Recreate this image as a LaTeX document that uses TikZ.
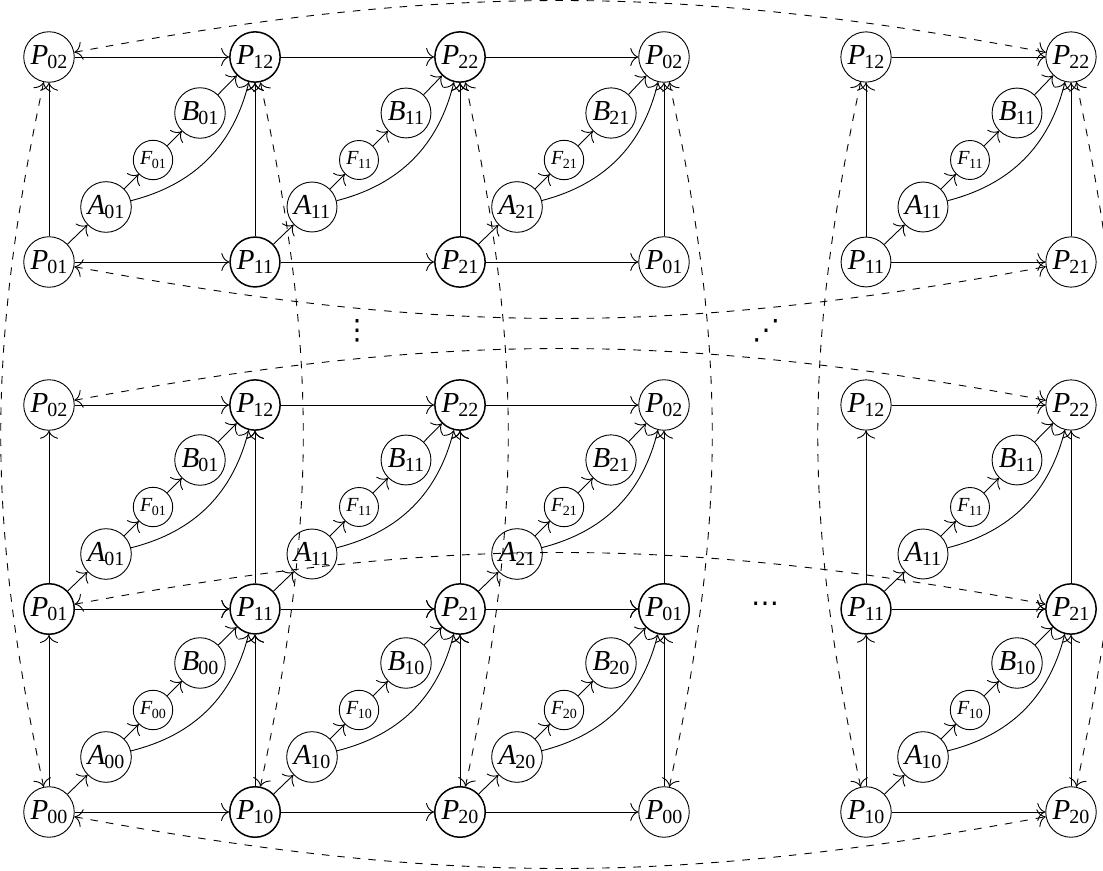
\documentclass[tikz,border=0pt]{standalone}
\usepackage{fontspec}
\setmainfont{Liberation Serif}
\newfontfamily\dejavu{DejaVu Sans}
\usetikzlibrary{arrows.meta}
\newcommand\pl[2]{\textit{#1}\kern-0.03em\raisebox{-0.35ex}{\fontsize{10}{10}\selectfont #2}}
\newcommand\fl[2]{\textit{#1}\kern-0.03em\raisebox{-0.35ex}{\fontsize{7}{7}\selectfont #2}}
% internal nodes of a cell: prefix, x, y of bottom-left corner, index
\newcommand\innernodes[4]{%
  \node[pn] (#1A) at (#2+57,#3-55) {\pl{A}{#4}};
  \node[fn] (#1F) at (#2+104,#3-102) {\fl{F}{#4}};
  \node[pn] (#1B) at (#2+151,#3-149) {\pl{B}{#4}};
}
% edges of a cell: BL, BR, TL, TR, inner prefix
\newcommand\celledges[5]{%
  \draw[->] (#1) -- (#2);
  \draw[->] (#1) -- (#3);
  \draw[->] (#3) -- (#4);
  \draw[->] (#2) -- (#4);
  \draw[->] (#1) -- (#5A);
  \draw[->] (#5A) -- (#5F);
  \draw[->] (#5F) -- (#5B);
  \draw[->] (#5B) -- (#4);
  \draw[->] (#5A) to[bend right=31] (#4);
}
\begin{document}
\begin{tikzpicture}[x=0.5pt,y=-0.5pt,line width=0.45pt,
  >={To[length=4pt,width=9pt]},
  pn/.style={circle,draw,inner sep=1.2pt,font=\fontsize{14.5}{14.5}\selectfont},
  fn/.style={circle,draw,inner sep=1.6pt,font=\fontsize{10}{10}\selectfont},
  bn/.style={pn,line width=0.75pt},
  da/.style={<->,dash pattern=on 3.8pt off 4pt},
  dotlbl/.style={inner sep=0pt,font=\dejavu\fontsize{14}{14}\selectfont}]
\useasboundingbox (0,0) rectangle (1103,871);

% ---------- top block ----------
\node[pn] (aP02)  at (49,57)   {\pl{P}{02}};
\node[bn] (aP12)  at (255,57)  {\pl{P}{12}};
\node[bn] (aP22)  at (460,57)  {\pl{P}{22}};
\node[pn] (aP02x) at (664,57)  {\pl{P}{02}};
\node[pn] (aP12r) at (866,57)  {\pl{P}{12}};
\node[pn] (aP22r) at (1071,57) {\pl{P}{22}};
\node[pn] (aP01)  at (49,262)  {\pl{P}{01}};
\node[bn] (aP11)  at (255,262) {\pl{P}{11}};
\node[bn] (aP21)  at (460,262) {\pl{P}{21}};
\node[pn] (aP01x) at (664,262) {\pl{P}{01}};
\node[pn] (aP11r) at (866,262) {\pl{P}{11}};
\node[pn] (aP21r) at (1071,262){\pl{P}{21}};
\innernodes{a01}{49}{262}{01}
\innernodes{a11}{255}{262}{11}
\innernodes{a21}{460}{262}{21}
\innernodes{a11r}{866}{262}{11}
\celledges{aP01}{aP11}{aP02}{aP12}{a01}
\celledges{aP11}{aP21}{aP12}{aP22}{a11}
\celledges{aP21}{aP01x}{aP22}{aP02x}{a21}
\celledges{aP11r}{aP21r}{aP12r}{aP22r}{a11r}

% ---------- bottom block ----------
\node[pn] (bP02)  at (49,405)   {\pl{P}{02}};
\node[bn] (bP12)  at (255,405)  {\pl{P}{12}};
\node[bn] (bP22)  at (460,405)  {\pl{P}{22}};
\node[pn] (bP02x) at (664,405)  {\pl{P}{02}};
\node[pn] (bP12r) at (866,405)  {\pl{P}{12}};
\node[pn] (bP22r) at (1071,405) {\pl{P}{22}};
\node[bn] (bP01)  at (49,609)   {\pl{P}{01}};
\node[bn] (bP11)  at (255,609)  {\pl{P}{11}};
\node[bn] (bP21)  at (460,609)  {\pl{P}{21}};
\node[bn] (bP01x) at (664,609)  {\pl{P}{01}};
\node[bn] (bP11r) at (866,609)  {\pl{P}{11}};
\node[bn] (bP21r) at (1071,609) {\pl{P}{21}};
\node[pn] (bP00)  at (49,812)   {\pl{P}{00}};
\node[bn] (bP10)  at (255,812)  {\pl{P}{10}};
\node[bn] (bP20)  at (460,812)  {\pl{P}{20}};
\node[pn] (bP00x) at (664,812)  {\pl{P}{00}};
\node[pn] (bP10r) at (866,812)  {\pl{P}{10}};
\node[pn] (bP20r) at (1071,812) {\pl{P}{20}};
\innernodes{b01}{49}{609}{01}
\innernodes{b11}{255}{609}{11}
\innernodes{b21}{460}{609}{21}
\innernodes{b11r}{866}{609}{11}
\innernodes{b00}{49}{812}{00}
\innernodes{b10}{255}{812}{10}
\innernodes{b20}{460}{812}{20}
\innernodes{b10r}{866}{812}{10}
\celledges{bP01}{bP11}{bP02}{bP12}{b01}
\celledges{bP11}{bP21}{bP12}{bP22}{b11}
\celledges{bP21}{bP01x}{bP22}{bP02x}{b21}
\celledges{bP11r}{bP21r}{bP12r}{bP22r}{b11r}
\celledges{bP00}{bP10}{bP01}{bP11}{b00}
\celledges{bP10}{bP20}{bP11}{bP21}{b10}
\celledges{bP20}{bP00x}{bP21}{bP01x}{b20}
\celledges{bP10r}{bP20r}{bP11r}{bP21r}{b10r}

% ---------- dashed identifications ----------
\draw[da] (aP02) to[bend left=10.5] (aP22r);
\draw[da] (aP01) to[bend right=10.5] (aP21r);
\draw[da] (bP02) to[bend left=10.5] (bP22r);
\draw[da] (bP01) to[bend left=10.5] (bP21r);
\draw[da] (bP00) to[bend right=10.5] (bP20r);
\draw[da] (aP02)  to[bend right=12] (bP00);
\draw[da] (aP12)  to[bend left=12]  (bP10);
\draw[da] (aP22)  to[bend left=12]  (bP20);
\draw[da] (aP02x) to[bend left=12]  (bP00x);
\draw[da] (aP12r) to[bend right=12] (bP10r);
\draw[da] (aP22r) to[bend left=12]  (bP20r);

% ---------- dots ----------
\node[dotlbl] (vd) at (357,331) {⋮};
\node[dotlbl] (ud) at (766,331) {⋰};
\node[dotlbl] (hd) at (765,607) {⋯};
\end{tikzpicture}
\end{document}
